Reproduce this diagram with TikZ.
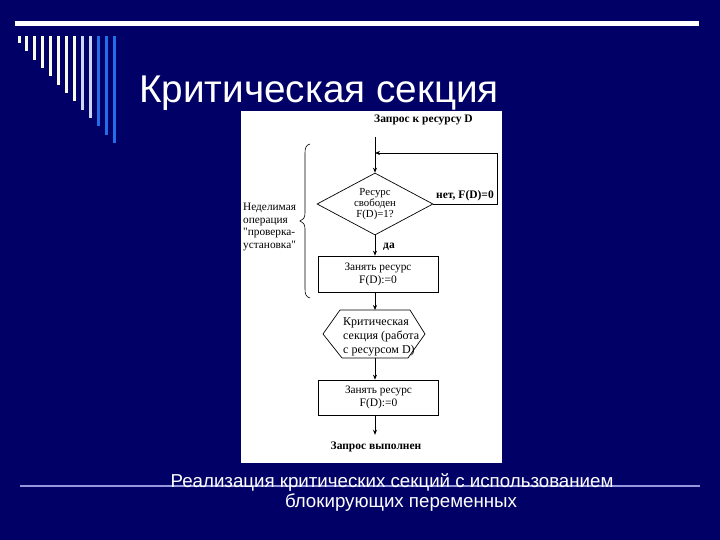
\documentclass[tikz,border=0pt]{standalone}
\usepackage{fontspec}
\setmainfont{Liberation Sans}
\newfontfamily\dgfont{Liberation Serif}
\usetikzlibrary{shapes.geometric,arrows.meta,calc}
\definecolor{slidebg}{RGB}{0,0,102}
\definecolor{barw}{RGB}{250,250,235}
\definecolor{barl}{RGB}{205,215,245}
\definecolor{barb}{RGB}{35,110,230}
\definecolor{sublinec}{RGB}{150,150,220}
\begin{document}
\begin{tikzpicture}[x=1pt,y=-1pt,
  dg/.style={font=\dgfont\fontsize{10.5}{11}\selectfont, text=black, align=center},
  dgb/.style={font=\dgfont\bfseries\fontsize{11.5}{12}\selectfont, text=black},
  ln/.style={draw=black, line width=0.7pt},
  arr/.style={ln, -{Stealth[length=5pt,width=4pt]}},
  boxn/.style={draw=black, line width=0.7pt, minimum width=120pt, minimum height=36pt, inner sep=1pt, dg, font=\dgfont\fontsize{11.3}{13}\selectfont}
]
\fill[slidebg] (0,0) rectangle (720,540);
\useasboundingbox (0,0) rectangle (720,540);
% top decoration
\fill[white] (15,21) rectangle (699,26);
\foreach \i/\c in {0/barw,1/barw,2/barw,3/barw,4/barw,5/barw,6/barw,7/barw,8/barl,9/barl,10/barb,11/barb,12/barb}{
  \fill[\c] ({19+7.95*\i-1.5},36) rectangle ({19+7.95*\i+1.5},{43+8.33*\i});
}
% title
\node[anchor=base west, text=white, font=\fontsize{38.7}{42}\selectfont, inner sep=0] (title) at (139,103) {Критическая секция};
% picture panel
\fill[white] (241,111) rectangle (502,463);
% flowchart
\node[dgb, anchor=west, inner sep=0] (req) at (374,120) {Запрос к ресурсу D};
\coordinate (top) at (375,137);
\node[diamond, aspect=2, draw=black, line width=0.7pt, minimum width=116pt, minimum height=62pt, inner sep=0, dg, font=\dgfont\fontsize{10.8}{10.8}\selectfont] (dia) at (375,204) {Ресурс\\свободен\\F(D)=1?};
\draw[arr] (top) -- (dia.north);
\node[dgb, anchor=south, inner sep=1pt] (no) at (465,202.5) {нет, F(D)=0};
\coordinate (lr) at (497,153);
\coordinate (lj) at (375,153);
\draw[arr] (dia.east) -| (lr) -- (lj);
\node[boxn] (b1) at (378,274) {Занять ресурс\\{\fontsize{11.5}{12}\selectfont F(D):=0}};
\draw[arr] (dia.south) -- (dia.south |- b1.north);
\node[dgb, anchor=west, inner sep=0] (yes) at (383,247) {да};
\node[dg, anchor=west, align=left, inner sep=0, font=\dgfont\fontsize{12}{14}\selectfont] (hx) at (343,337) {Критическая\\секция (работа\\с ресурсом D)};
\coordinate (hxc) at (375,334);
\draw[ln] ($(hxc)+(-35,-24)$) -- ($(hxc)+(35,-24)$) -- ($(hxc)+(50,0)$) -- ($(hxc)+(33,24)$) -- ($(hxc)+(-33,24)$) -- ($(hxc)+(-52,0)$) -- cycle;
\coordinate (hxn) at ($(hxc)+(0,-24)$);
\coordinate (hxs) at ($(hxc)+(0,24)$);
\draw[arr] (b1.south -| top) -- (hxn);
\node[boxn, minimum height=35pt] (b2) at (378.5,397.5) {Занять ресурс\\{\fontsize{11.5}{12}\selectfont F(D):=0}};
\draw[arr] (hxs) -- (b2.north -| top);
\node[dgb, inner xsep=2pt, inner ysep=7pt] (fin) at (376,447) {Запрос выполнен};
\draw[arr] (b2.south -| top) -- (fin.north -| top);
% left annotation
\node[dg, anchor=west, align=left, inner sep=2pt, font=\dgfont\fontsize{11.3}{12.7}\selectfont] (ndl) at (241,227) {Неделимая\\операция\\"проверка-\\установка"};
\draw[ln, line width=0.6pt] (310,144) .. controls (306,145) and (305,148) .. (305,153) -- (305,213) .. controls (305,218) and (303,220) .. (300,221) .. controls (303,222) and (305,224) .. (305,229) -- (305,289) .. controls (305,294) and (306,297) .. (310,298);
% bottom
\draw[sublinec, line width=2pt] (20,485.5) -- (700,485.5);
\node[text=white, font=\fontsize{18.7}{22}\selectfont, anchor=base, inner sep=0] (sub1) at (392,487) {Реализация критических секций с использованием};
\node[text=white, font=\fontsize{18.7}{22}\selectfont, anchor=base, inner sep=0] (sub2) at (401,507) {блокирующих переменных};
\end{tikzpicture}
\end{document}
